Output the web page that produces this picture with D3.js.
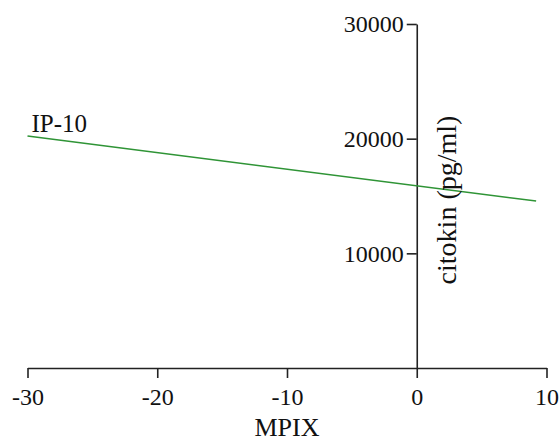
<!DOCTYPE html>
<html>
<head>
<meta charset="utf-8">
<script src="https://cdn.jsdelivr.net/npm/d3@7"></script>
<style>
  html, body { margin: 0; padding: 0; background: #fff; }
  svg { display: block; }
  svg text { font-family: "Liberation Serif", "Times New Roman", Times, serif !important; fill: #111; }
</style>
</head>
<body>
<svg id="chart" width="560" height="443"></svg>
<script>
// Data
const seriesName = "IP-10";
const mpix = [-30, 9.2];
const citokin = [20230, 14560];
const xTicks = [-30, -20, -10, 0, 10];
const yTicks = [10000, 20000, 30000];
const xTitle = "MPIX";
const yTitle = "citokin (pg/ml)";

const svg = d3.select("#chart");
const x = d3.scaleLinear().domain([-30, 10]).range([27.5, 546.5]);
const y = d3.scaleLinear().domain([0, 30000]).range([368, 24]);
const axisColor = "#222";
const fmt = d => String(d); // plain hyphen-minus as in the reference

// X axis
const gx = svg.append("g")
  .attr("transform", `translate(0,${y(0)})`)
  .call(d3.axisBottom(x).tickValues(xTicks).tickFormat(fmt)
    .tickSize(10).tickSizeOuter(0).tickPadding(10));

// Y axis at x = 0
const gy = svg.append("g")
  .attr("transform", `translate(${x(0)},0)`)
  .call(d3.axisLeft(y).tickValues(yTicks).tickFormat(fmt)
    .tickSize(10).tickSizeOuter(0).tickPadding(3));

[gx, gy].forEach(g => {
  g.attr("font-family", null);
  g.selectAll("path.domain").attr("stroke", axisColor).attr("stroke-width", 1.6);
  g.selectAll(".tick line").attr("stroke", axisColor).attr("stroke-width", 1.6);
  g.selectAll(".tick text").attr("font-size", 24).attr("fill", "#111");
});

// Line
const pts = mpix.map((d, i) => [d, citokin[i]]);
svg.append("path")
  .datum(pts)
  .attr("fill", "none")
  .attr("stroke", "#2f9436")
  .attr("stroke-width", 1.6)
  .attr("d", d3.line().x(d => x(d[0])).y(d => y(d[1])));

// Series label
svg.append("text")
  .attr("x", x(mpix[0]) + 4)
  .attr("y", y(citokin[0]) - 4)
  .attr("font-size", 25)
  .text(seriesName);

// Axis titles
svg.append("text")
  .attr("x", (x.range()[0] + x.range()[1]) / 2)
  .attr("y", 436)
  .attr("text-anchor", "middle")
  .attr("font-size", 26)
  .text(xTitle);

svg.append("text")
  .attr("transform", `translate(456,200) rotate(-90)`)
  .attr("text-anchor", "middle")
  .attr("font-size", 28)
  .text(yTitle);
</script>
</body>
</html>
